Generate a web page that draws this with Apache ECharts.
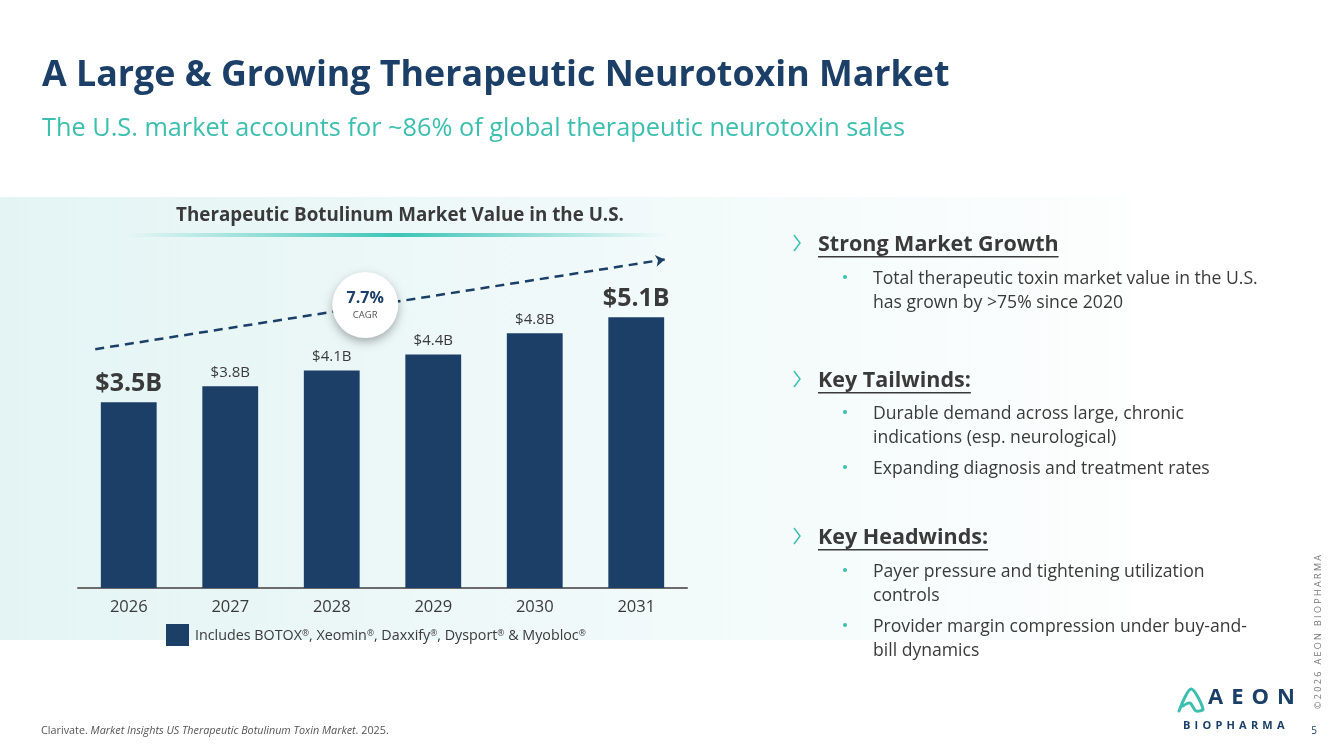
<!DOCTYPE html>
<html>
<head>
<meta charset="utf-8">
<title>A Large & Growing Therapeutic Neurotoxin Market</title>
<script src="https://cdn.jsdelivr.net/npm/echarts@6/dist/echarts.min.js"></script>
<style>
  html, body { margin: 0; padding: 0; background: #ffffff; }
  #chart { width: 1333px; height: 749px; }
</style>
</head>
<body>
<div id="chart"></div>
<script>
// data
var categories = ['2026', '2027', '2028', '2029', '2030', '2031'];
var values = [3.5, 3.8, 4.1, 4.4, 4.8, 5.1];
var valueLabels = ['$3.5B', '$3.8B', '$4.1B', '$4.4B', '$4.8B', '$5.1B'];
var bigLabels = [true, false, false, false, false, true];
var seriesName = 'Includes BOTOX®, Xeomin®, Daxxify®, Dysport® & Myobloc®';
var cagrValue = '7.7%';
// trend arrow and CAGR bubble, in (category index, value) space
var trendStart = [-0.33, 4.5];
var trendEnd = [5.28, 6.19];
var cagrPos = [2.33, 5.33];

var NAVY = '#1b3f66';
var TEAL = '#3cbfae';
var TEXT = '#3a3a3a';
var FONT = '"Open Sans", Lato, sans-serif';

// measure text for underlines / spaced letters
var ctx = document.createElement('canvas').getContext('2d');
function textWidth (s, size, weight) {
  ctx.font = (weight || 'normal') + ' ' + size + 'px ' + FONT;
  return ctx.measureText(s).width;
}

function txt (x, y, s, size, opts) {
  opts = opts || {};
  return {
    type: 'text',
    x: x,
    y: y,
    rotation: opts.rotation || 0,
    z: 10,
    style: {
      text: s,
      fill: opts.color || TEXT,
      fontSize: size,
      fontFamily: FONT,
      fontWeight: opts.weight || 'normal',
      fontStyle: opts.style || 'normal',
      align: opts.align || 'left',
      verticalAlign: 'middle',
      rich: opts.rich
    }
  };
}

// letters spread out like the logo
function spaced (x, y, s, size, gap, color) {
  var out = [];
  for (var i = 0; i < s.length; i++) {
    out.push(txt(x, y, s[i], size, { weight: 'bold', color: color }));
    x += textWidth(s[i], size, 'bold') + gap;
  }
  return out;
}

function heading (y, s) {
  var w = textWidth(s, 21.5, 'bold');
  return [
    { type: 'polyline', z: 10, shape: { points: [[794, y - 8], [800, y], [794, y + 8]] }, style: { stroke: TEAL, lineWidth: 1.5, fill: null } },
    txt(818, y + 1.5, s, 21.5, { weight: 'bold' }),
    { type: 'rect', z: 10, shape: { x: 818, y: y + 13, width: w, height: 1.5 }, style: { fill: TEXT } }
  ];
}

function bullet (y, lines) {
  var out = [{ type: 'circle', z: 10, shape: { cx: 845, cy: y, r: 2 }, style: { fill: TEAL } }];
  for (var i = 0; i < lines.length; i++) {
    out.push(txt(873, y + 1.5 + i * 24, lines[i], 17.6));
  }
  return out;
}

var graphics = [
  // light panel behind chart and bullets
  {
    type: 'rect', z: -10, shape: { x: 0, y: 197, width: 1130, height: 443 },
    style: {
      fill: new echarts.graphic.LinearGradient(0, 0, 1, 0, [
        { offset: 0, color: '#e4f4f4' },
        { offset: 0.6, color: '#f2fafa' },
        { offset: 1, color: '#fdfefe' }
      ])
    }
  },
  txt(42, 75.5, 'A Large & Growing Therapeutic Neurotoxin Market', 35.8, { weight: 'bold', color: NAVY }),
  txt(42, 129, 'The U.S. market accounts for ~86% of global therapeutic neurotoxin sales', 25.3, { color: TEAL }),
  txt(400, 216, 'Therapeutic Botulinum Market Value in the U.S.', 18.8, { weight: 'bold', align: 'center' }),
  {
    type: 'rect', z: 10, shape: { x: 128, y: 233, width: 538, height: 4 },
    style: {
      fill: new echarts.graphic.LinearGradient(0, 0, 1, 0, [
        { offset: 0, color: 'rgba(60,197,182,0)' },
        { offset: 0.5, color: 'rgba(60,197,182,1)' },
        { offset: 1, color: 'rgba(60,197,182,0)' }
      ])
    }
  },
  txt(41, 731, '{n|Clarivate. }{i|Market Insights US Therapeutic Botulinum Toxin Market}{n|. 2025.}', 10.8, {
    rich: {
      n: { fontSize: 10.8, fontFamily: FONT, fill: '#555555' },
      i: { fontSize: 10.8, fontFamily: FONT, fontStyle: 'italic', fill: '#555555' }
    }
  }),
  txt(1318, 632, '© 2 0 2 6   A E O N   B I O P H A R M A', 9, { color: '#777777', align: 'center', rotation: Math.PI / 2 }),
  txt(1314, 731, '5', 10, { color: NAVY, align: 'center' }),
  // logo mark
  {
    type: 'polyline', z: 10,
    shape: { points: [[1179, 711], [1191, 689], [1203, 709], [1196, 711], [1190, 703], [1183, 706]], smooth: 0.3 },
    style: { stroke: TEAL, lineWidth: 3, fill: null, lineCap: 'round', lineJoin: 'round' }
  }
];
graphics = graphics
  .concat(spaced(1208, 698, 'AEON', 22, 8, NAVY))
  .concat(spaced(1183, 726, 'BIOPHARMA', 11, 4.2, NAVY))
  .concat(heading(243, 'Strong Market Growth'))
  .concat(bullet(277, ['Total therapeutic toxin market value in the U.S.', 'has grown by >75% since 2020']))
  .concat(heading(379, 'Key Tailwinds:'))
  .concat(bullet(412, ['Durable demand across large, chronic', 'indications (esp. neurological)']))
  .concat(bullet(467, ['Expanding diagnosis and treatment rates']))
  .concat(heading(536, 'Key Headwinds:'))
  .concat(bullet(570, ['Payer pressure and tightening utilization', 'controls']))
  .concat(bullet(625, ['Provider margin compression under buy-and-', 'bill dynamics']));

var barData = values.map(function (v, i) {
  return {
    value: v,
    label: {
      formatter: valueLabels[i],
      fontSize: bigLabels[i] ? 25 : 15,
      fontWeight: bigLabels[i] ? 'bold' : 'normal'
    }
  };
});

var myChart = echarts.init(document.getElementById('chart'), null, { renderer: 'canvas' });
var option = {
  backgroundColor: '#ffffff',
  animation: false,
  textStyle: { fontFamily: FONT },
  grid: { left: 78, right: 646, top: 243, bottom: 161 },
  legend: {
    data: [seriesName],
    left: 166,
    top: 624,
    padding: 0,
    itemWidth: 23,
    itemHeight: 22,
    itemGap: 0,
    icon: 'rect',
    formatter: function (name) {
      return name.replace(/®/g, '{r|®}');
    },
    textStyle: {
      fontSize: 14.3,
      color: TEXT,
      fontFamily: FONT,
      padding: [2, 0, 0, 1],
      rich: {
        r: { fontSize: 8.5, verticalAlign: 'top', color: TEXT, fontFamily: FONT }
      }
    }
  },
  xAxis: [{
    type: 'category',
    data: categories,
    axisTick: { show: false },
    axisLine: { lineStyle: { color: '#6b6b6b', width: 2 } },
    axisLabel: { fontSize: 16.5, color: TEXT, margin: 11, fontFamily: FONT }
  }, {
    type: 'value',
    min: -0.5,
    max: 5.5,
    show: false
  }],
  yAxis: {
    type: 'value',
    min: 0,
    max: 6.5,
    show: false,
    splitLine: { show: false }
  },
  series: [{
    name: seriesName,
    type: 'bar',
    barWidth: '55%',
    data: barData,
    itemStyle: { color: NAVY },
    label: { show: true, position: 'top', distance: 6, color: TEXT, fontFamily: FONT }
  }, {
    name: 'trend',
    type: 'line',
    xAxisIndex: 1,
    data: [],
    z: 3,
    markLine: {
      silent: true,
      symbol: ['none', 'arrow'],
      symbolSize: [9, 9],
      label: { show: false },
      lineStyle: { color: NAVY, width: 2.5, type: [9, 6] },
      data: [[{ coord: trendStart }, { coord: trendEnd }]]
    }
  }, {
    name: 'CAGR',
    type: 'scatter',
    xAxisIndex: 1,
    z: 5,
    symbolSize: 66,
    data: [cagrPos],
    itemStyle: {
      color: '#ffffff',
      opacity: 1,
      shadowBlur: 10,
      shadowOffsetY: 4,
      shadowColor: 'rgba(0,0,0,0.3)'
    },
    label: {
      show: true,
      position: 'inside',
      formatter: '{a|' + cagrValue + '}\n{b|CAGR}',
      rich: {
        a: { fontSize: 16, fontWeight: 'bold', color: NAVY, fontFamily: FONT, lineHeight: 20 },
        b: { fontSize: 9.5, color: '#555555', fontFamily: FONT, lineHeight: 14 }
      }
    }
  }],
  graphic: graphics
};
myChart.setOption(option);
</script>
</body>
</html>
